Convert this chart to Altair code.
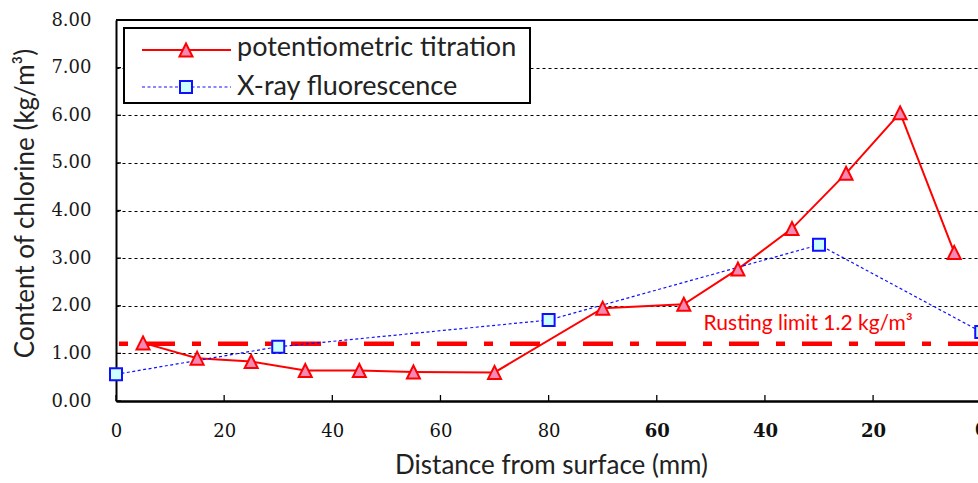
import altair as alt
import pandas as pd

# ---- data ----
TITR_X = [5, 15, 25, 35, 45, 55, 70, 90, 105, 115, 125, 135, 145, 155]
TITR_Y = [1.22, 0.90, 0.83, 0.64, 0.64, 0.61, 0.60, 1.95, 2.03, 2.77, 3.62, 4.78, 6.05, 3.12]
XRF_X = [0, 30, 80, 130, 160]
XRF_Y = [0.56, 1.14, 1.70, 3.28, 1.45]
RUST_LIMIT = [1.2]
X_TICKS = [0, 20, 40, 60, 80, 100, 120, 140, 160]
Y_TICKS = [0, 1, 2, 3, 4, 5, 6, 7, 8]
SERIES = ["potentiometric titration", "X-ray fluorescence"]
RUST_LABEL = ["Rusting limit 1.2 kg/m³"]
RUST_LABEL_X = [128]
RUST_LABEL_Y = [1.49]
X_TITLE = "Distance from surface (mm)"
Y_TITLE = "Content of chlorine (kg/m³)"

# ---- styles ----
W, H = 862, 381
RED = "#FF0000"
PINK = "#F48AB4"
BLUE = "#1010FF"
CYAN = "#CCFFFF"
TRI = "M0,-1L-1,1L1,1Z"
SANS = "Lato"
SERIF = "DejaVu Serif"
LABEL_EXPR = "datum.value <= 80 ? datum.value : 160 - datum.value"

xscale = alt.Scale(domain=[0, 159.4], nice=False, zero=False)
yscale = alt.Scale(domain=[0, 8], nice=False, zero=False)

y_axis = alt.Axis(
    values=Y_TICKS, format=".2f", labelFont=SERIF, labelFontSize=18, labelColor="#1a1a1a",
    labelPadding=25, ticks=False, domainColor="black", domainWidth=2,
    grid=True, gridDash=[3, 3], gridColor="black", gridWidth=1, gridOpacity=1,
    title=Y_TITLE, titleFont=SANS, titleFontSize=26, titleFontWeight="normal", titleColor="#222222",
    titleX=-83, titleY=183, titleAngle=270, titleAlign="center", titleBaseline="alphabetic",
)
x_axis = alt.Axis(
    values=X_TICKS, labelExpr=LABEL_EXPR,
    labelFont=SERIF, labelFontSize=18, labelColor="#111111",
    labelFontWeight=alt.condition("datum.value > 80", alt.value("bold"), alt.value("normal")),
    labelPadding=21, labelFlush=False, labelOverlap=False, ticks=False,
    domainColor="black", domainWidth=2.5, grid=False,
    title=X_TITLE, titleFont=SANS, titleFontSize=26, titleFontWeight="normal", titleColor="#222222",
    titleX=435, titleY=72, titleAlign="center", titleBaseline="alphabetic",
)

XE = alt.X("x:Q", scale=xscale, axis=x_axis)
YE = alt.Y("y:Q", scale=yscale, axis=y_axis)

titr = pd.DataFrame({"x": TITR_X, "y": TITR_Y})
xrf = pd.DataFrame({"x": XRF_X, "y": XRF_Y})
one = pd.DataFrame({"k": [0]})

ytick = alt.Chart(pd.DataFrame({"y": Y_TICKS})).mark_rule(color="black", strokeWidth=1.3).encode(
    y=YE, x=alt.value(0), x2=alt.value(5))
xtick = alt.Chart(pd.DataFrame({"x": X_TICKS})).mark_rule(color="black", strokeWidth=1.3).encode(
    x=XE, y=alt.value(H - 6), y2=alt.value(H))
# the last tick label sits just past the visible edge of the scale, draw it as text
last_label = alt.Chart(pd.DataFrame({"x": [X_TICKS[-1]]})).transform_calculate(
    t="datum.x <= 80 ? datum.x : 160 - datum.x").mark_text(
    font=SERIF, fontSize=18, fontWeight="bold", color="#111111", align="center", baseline="top").encode(
    x=XE, y=alt.value(H + 21), text="t:N")
top = alt.Chart(pd.DataFrame({"y": [Y_TICKS[-1]]})).mark_rule(color="black", strokeWidth=2).encode(y=YE)

rust = alt.Chart(pd.DataFrame({"y": RUST_LIMIT})).mark_rule(
    color=RED, strokeWidth=4.5, strokeDash=[30, 17, 9, 17]).encode(y=YE)
rust_text = alt.Chart(pd.DataFrame({"x": RUST_LABEL_X, "y": RUST_LABEL_Y, "t": RUST_LABEL})).mark_text(
    font=SANS, fontSize=21, color=RED, align="center", baseline="alphabetic").encode(
    x=XE, y=YE, text="t:N")

titr_line = alt.Chart(titr).mark_line(color=RED, strokeWidth=2).encode(x=XE, y=YE)
xrf_line = alt.Chart(xrf).mark_line(color=BLUE, strokeWidth=1.2, strokeDash=[3, 2.5]).encode(x=XE, y=YE)
titr_pts = alt.Chart(titr).mark_point(shape=TRI, size=169, filled=True, fill=PINK, stroke=RED,
                                      strokeWidth=2, opacity=1).encode(x=XE, y=YE)
xrf_pts = alt.Chart(xrf).mark_point(shape="square", size=144, filled=True, fill=CYAN, stroke=BLUE,
                                    strokeWidth=2, opacity=1).encode(x=XE, y=YE)

# ---- legend ----
leg_box = alt.Chart(one).mark_rect(fill="white", stroke="black", strokeWidth=2).encode(
    x=alt.value(8), x2=alt.value(414), y=alt.value(8), y2=alt.value(83))
leg_l1 = alt.Chart(one).mark_rule(color=RED, strokeWidth=2).encode(
    x=alt.value(26), x2=alt.value(115), y=alt.value(30))
leg_l2 = alt.Chart(one).mark_rule(color=BLUE, strokeWidth=1.2, strokeDash=[3, 2.5]).encode(
    x=alt.value(26), x2=alt.value(115), y=alt.value(67))
leg_p1 = alt.Chart(one).mark_point(shape=TRI, size=169, filled=True, fill=PINK, stroke=RED,
                                   strokeWidth=2, opacity=1).encode(x=alt.value(70), y=alt.value(30))
leg_p2 = alt.Chart(one).mark_point(shape="square", size=144, filled=True, fill=CYAN, stroke=BLUE,
                                   strokeWidth=2, opacity=1).encode(x=alt.value(70), y=alt.value(67))
leg_t1 = alt.Chart(one).mark_text(
    font=SANS, fontSize=27, color="#222222", align="left", baseline="alphabetic", text=SERIES[0]).encode(
    x=alt.value(121), y=alt.value(36))
leg_t2 = alt.Chart(one).mark_text(
    font=SANS, fontSize=27, color="#222222", align="left", baseline="alphabetic", text=SERIES[1]).encode(
    x=alt.value(121), y=alt.value(75))

chart = alt.layer(
    ytick, xtick, rust, titr_line, xrf_line, titr_pts, xrf_pts, top, rust_text, last_label,
    leg_box, leg_l1, leg_l2, leg_p1, leg_p2, leg_t1, leg_t2,
).properties(
    width=W, height=H,
    autosize=alt.AutoSizeParams(type="none"),
    padding={"left": 116, "top": 20, "right": 0, "bottom": 82},
).configure_view(stroke=None).configure(background="white")

chart.save("out.html", embed_options={"renderer": "svg", "actions": False})
